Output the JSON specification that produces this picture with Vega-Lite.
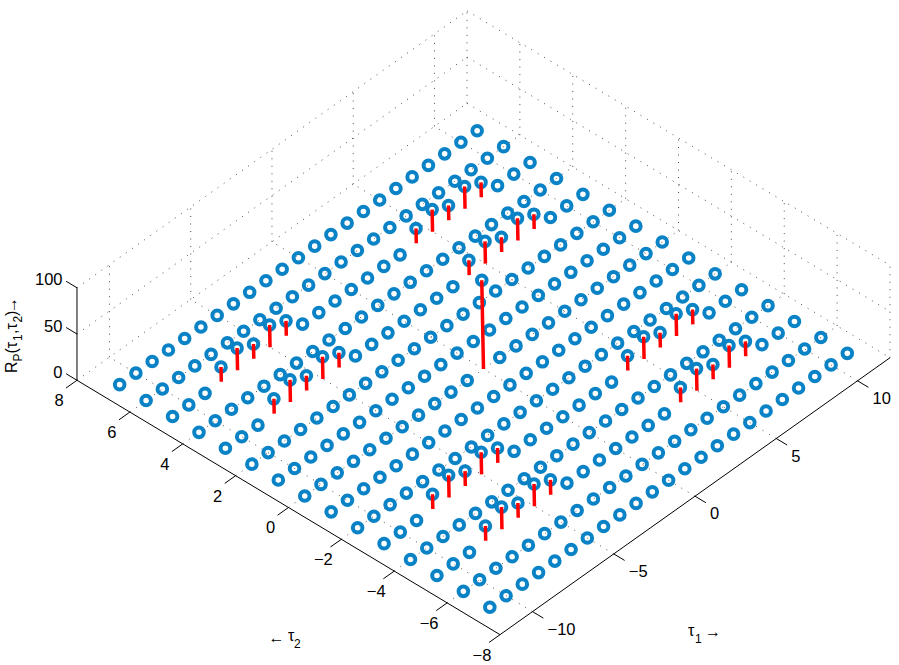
{"$schema":"https://vega.github.io/schema/vega-lite/v6.json","width":899,"height":665,"autosize":{"type":"fit","contains":"padding"},"padding":0,"background":"white","config":{"view":{"stroke":null}},
"datasets":{
"grid":[
{"tau1":-11,"tau2":-7,"R":0},{"tau1":-10,"tau2":-7,"R":0},{"tau1":-9,"tau2":-7,"R":0},{"tau1":-8,"tau2":-7,"R":0},{"tau1":-7,"tau2":-7,"R":0},{"tau1":-6,"tau2":-7,"R":0},{"tau1":-5,"tau2":-7,"R":0},{"tau1":-4,"tau2":-7,"R":0},{"tau1":-3,"tau2":-7,"R":0},{"tau1":-2,"tau2":-7,"R":0},{"tau1":-1,"tau2":-7,"R":0},{"tau1":0,"tau2":-7,"R":0},{"tau1":1,"tau2":-7,"R":0},{"tau1":2,"tau2":-7,"R":0},{"tau1":3,"tau2":-7,"R":0},{"tau1":4,"tau2":-7,"R":0},{"tau1":5,"tau2":-7,"R":0},{"tau1":6,"tau2":-7,"R":0},{"tau1":7,"tau2":-7,"R":0},{"tau1":8,"tau2":-7,"R":0},{"tau1":9,"tau2":-7,"R":0},{"tau1":10,"tau2":-7,"R":0},{"tau1":11,"tau2":-7,"R":0},
{"tau1":-11,"tau2":-6,"R":0},{"tau1":-10,"tau2":-6,"R":0},{"tau1":-9,"tau2":-6,"R":0},{"tau1":-8,"tau2":-6,"R":0},{"tau1":-7,"tau2":-6,"R":0},{"tau1":-6,"tau2":-6,"R":0},{"tau1":-5,"tau2":-6,"R":0},{"tau1":-4,"tau2":-6,"R":0},{"tau1":-3,"tau2":-6,"R":0},{"tau1":-2,"tau2":-6,"R":0},{"tau1":-1,"tau2":-6,"R":0},{"tau1":0,"tau2":-6,"R":0},{"tau1":1,"tau2":-6,"R":0},{"tau1":2,"tau2":-6,"R":0},{"tau1":3,"tau2":-6,"R":0},{"tau1":4,"tau2":-6,"R":0},{"tau1":5,"tau2":-6,"R":0},{"tau1":6,"tau2":-6,"R":0},{"tau1":7,"tau2":-6,"R":0},{"tau1":8,"tau2":-6,"R":0},{"tau1":9,"tau2":-6,"R":0},{"tau1":10,"tau2":-6,"R":0},{"tau1":11,"tau2":-6,"R":0},
{"tau1":-11,"tau2":-5,"R":0},{"tau1":-10,"tau2":-5,"R":0},{"tau1":-9,"tau2":-5,"R":0},{"tau1":-8,"tau2":-5,"R":16},{"tau1":-7,"tau2":-5,"R":24},{"tau1":-6,"tau2":-5,"R":16},{"tau1":-5,"tau2":-5,"R":24},{"tau1":-4,"tau2":-5,"R":16},{"tau1":-3,"tau2":-5,"R":0},{"tau1":-2,"tau2":-5,"R":0},{"tau1":-1,"tau2":-5,"R":0},{"tau1":0,"tau2":-5,"R":0},{"tau1":1,"tau2":-5,"R":0},{"tau1":2,"tau2":-5,"R":0},{"tau1":3,"tau2":-5,"R":0},{"tau1":4,"tau2":-5,"R":16},{"tau1":5,"tau2":-5,"R":24},{"tau1":6,"tau2":-5,"R":16},{"tau1":7,"tau2":-5,"R":24},{"tau1":8,"tau2":-5,"R":16},{"tau1":9,"tau2":-5,"R":0},{"tau1":10,"tau2":-5,"R":0},{"tau1":11,"tau2":-5,"R":0},
{"tau1":-11,"tau2":-4,"R":0},{"tau1":-10,"tau2":-4,"R":0},{"tau1":-9,"tau2":-4,"R":0},{"tau1":-8,"tau2":-4,"R":0},{"tau1":-7,"tau2":-4,"R":0},{"tau1":-6,"tau2":-4,"R":0},{"tau1":-5,"tau2":-4,"R":0},{"tau1":-4,"tau2":-4,"R":0},{"tau1":-3,"tau2":-4,"R":0},{"tau1":-2,"tau2":-4,"R":0},{"tau1":-1,"tau2":-4,"R":0},{"tau1":0,"tau2":-4,"R":0},{"tau1":1,"tau2":-4,"R":0},{"tau1":2,"tau2":-4,"R":0},{"tau1":3,"tau2":-4,"R":0},{"tau1":4,"tau2":-4,"R":0},{"tau1":5,"tau2":-4,"R":0},{"tau1":6,"tau2":-4,"R":0},{"tau1":7,"tau2":-4,"R":0},{"tau1":8,"tau2":-4,"R":0},{"tau1":9,"tau2":-4,"R":0},{"tau1":10,"tau2":-4,"R":0},{"tau1":11,"tau2":-4,"R":0},
{"tau1":-11,"tau2":-3,"R":0},{"tau1":-10,"tau2":-3,"R":0},{"tau1":-9,"tau2":-3,"R":0},{"tau1":-8,"tau2":-3,"R":16},{"tau1":-7,"tau2":-3,"R":24},{"tau1":-6,"tau2":-3,"R":16},{"tau1":-5,"tau2":-3,"R":24},{"tau1":-4,"tau2":-3,"R":16},{"tau1":-3,"tau2":-3,"R":0},{"tau1":-2,"tau2":-3,"R":0},{"tau1":-1,"tau2":-3,"R":0},{"tau1":0,"tau2":-3,"R":0},{"tau1":1,"tau2":-3,"R":0},{"tau1":2,"tau2":-3,"R":0},{"tau1":3,"tau2":-3,"R":0},{"tau1":4,"tau2":-3,"R":16},{"tau1":5,"tau2":-3,"R":24},{"tau1":6,"tau2":-3,"R":16},{"tau1":7,"tau2":-3,"R":24},{"tau1":8,"tau2":-3,"R":16},{"tau1":9,"tau2":-3,"R":0},{"tau1":10,"tau2":-3,"R":0},{"tau1":11,"tau2":-3,"R":0},
{"tau1":-11,"tau2":-2,"R":0},{"tau1":-10,"tau2":-2,"R":0},{"tau1":-9,"tau2":-2,"R":0},{"tau1":-8,"tau2":-2,"R":0},{"tau1":-7,"tau2":-2,"R":0},{"tau1":-6,"tau2":-2,"R":0},{"tau1":-5,"tau2":-2,"R":0},{"tau1":-4,"tau2":-2,"R":0},{"tau1":-3,"tau2":-2,"R":0},{"tau1":-2,"tau2":-2,"R":0},{"tau1":-1,"tau2":-2,"R":0},{"tau1":0,"tau2":-2,"R":0},{"tau1":1,"tau2":-2,"R":0},{"tau1":2,"tau2":-2,"R":0},{"tau1":3,"tau2":-2,"R":0},{"tau1":4,"tau2":-2,"R":0},{"tau1":5,"tau2":-2,"R":0},{"tau1":6,"tau2":-2,"R":0},{"tau1":7,"tau2":-2,"R":0},{"tau1":8,"tau2":-2,"R":0},{"tau1":9,"tau2":-2,"R":0},{"tau1":10,"tau2":-2,"R":0},{"tau1":11,"tau2":-2,"R":0},
{"tau1":-11,"tau2":-1,"R":0},{"tau1":-10,"tau2":-1,"R":0},{"tau1":-9,"tau2":-1,"R":0},{"tau1":-8,"tau2":-1,"R":0},{"tau1":-7,"tau2":-1,"R":0},{"tau1":-6,"tau2":-1,"R":0},{"tau1":-5,"tau2":-1,"R":0},{"tau1":-4,"tau2":-1,"R":0},{"tau1":-3,"tau2":-1,"R":0},{"tau1":-2,"tau2":-1,"R":0},{"tau1":-1,"tau2":-1,"R":0},{"tau1":0,"tau2":-1,"R":0},{"tau1":1,"tau2":-1,"R":0},{"tau1":2,"tau2":-1,"R":0},{"tau1":3,"tau2":-1,"R":0},{"tau1":4,"tau2":-1,"R":0},{"tau1":5,"tau2":-1,"R":0},{"tau1":6,"tau2":-1,"R":0},{"tau1":7,"tau2":-1,"R":0},{"tau1":8,"tau2":-1,"R":0},{"tau1":9,"tau2":-1,"R":0},{"tau1":10,"tau2":-1,"R":0},{"tau1":11,"tau2":-1,"R":0},
{"tau1":-11,"tau2":0,"R":0},{"tau1":-10,"tau2":0,"R":0},{"tau1":-9,"tau2":0,"R":0},{"tau1":-8,"tau2":0,"R":0},{"tau1":-7,"tau2":0,"R":0},{"tau1":-6,"tau2":0,"R":0},{"tau1":-5,"tau2":0,"R":0},{"tau1":-4,"tau2":0,"R":0},{"tau1":-3,"tau2":0,"R":0},{"tau1":-2,"tau2":0,"R":0},{"tau1":-1,"tau2":0,"R":0},{"tau1":0,"tau2":0,"R":96},{"tau1":1,"tau2":0,"R":0},{"tau1":2,"tau2":0,"R":0},{"tau1":3,"tau2":0,"R":0},{"tau1":4,"tau2":0,"R":0},{"tau1":5,"tau2":0,"R":0},{"tau1":6,"tau2":0,"R":0},{"tau1":7,"tau2":0,"R":0},{"tau1":8,"tau2":0,"R":0},{"tau1":9,"tau2":0,"R":0},{"tau1":10,"tau2":0,"R":0},{"tau1":11,"tau2":0,"R":0},
{"tau1":-11,"tau2":1,"R":0},{"tau1":-10,"tau2":1,"R":0},{"tau1":-9,"tau2":1,"R":0},{"tau1":-8,"tau2":1,"R":0},{"tau1":-7,"tau2":1,"R":0},{"tau1":-6,"tau2":1,"R":0},{"tau1":-5,"tau2":1,"R":0},{"tau1":-4,"tau2":1,"R":0},{"tau1":-3,"tau2":1,"R":0},{"tau1":-2,"tau2":1,"R":0},{"tau1":-1,"tau2":1,"R":0},{"tau1":0,"tau2":1,"R":0},{"tau1":1,"tau2":1,"R":0},{"tau1":2,"tau2":1,"R":0},{"tau1":3,"tau2":1,"R":0},{"tau1":4,"tau2":1,"R":0},{"tau1":5,"tau2":1,"R":0},{"tau1":6,"tau2":1,"R":0},{"tau1":7,"tau2":1,"R":0},{"tau1":8,"tau2":1,"R":0},{"tau1":9,"tau2":1,"R":0},{"tau1":10,"tau2":1,"R":0},{"tau1":11,"tau2":1,"R":0},
{"tau1":-11,"tau2":2,"R":0},{"tau1":-10,"tau2":2,"R":0},{"tau1":-9,"tau2":2,"R":0},{"tau1":-8,"tau2":2,"R":0},{"tau1":-7,"tau2":2,"R":0},{"tau1":-6,"tau2":2,"R":0},{"tau1":-5,"tau2":2,"R":0},{"tau1":-4,"tau2":2,"R":0},{"tau1":-3,"tau2":2,"R":0},{"tau1":-2,"tau2":2,"R":0},{"tau1":-1,"tau2":2,"R":0},{"tau1":0,"tau2":2,"R":0},{"tau1":1,"tau2":2,"R":0},{"tau1":2,"tau2":2,"R":0},{"tau1":3,"tau2":2,"R":0},{"tau1":4,"tau2":2,"R":0},{"tau1":5,"tau2":2,"R":0},{"tau1":6,"tau2":2,"R":0},{"tau1":7,"tau2":2,"R":0},{"tau1":8,"tau2":2,"R":0},{"tau1":9,"tau2":2,"R":0},{"tau1":10,"tau2":2,"R":0},{"tau1":11,"tau2":2,"R":0},
{"tau1":-11,"tau2":3,"R":0},{"tau1":-10,"tau2":3,"R":0},{"tau1":-9,"tau2":3,"R":0},{"tau1":-8,"tau2":3,"R":16},{"tau1":-7,"tau2":3,"R":24},{"tau1":-6,"tau2":3,"R":16},{"tau1":-5,"tau2":3,"R":24},{"tau1":-4,"tau2":3,"R":16},{"tau1":-3,"tau2":3,"R":0},{"tau1":-2,"tau2":3,"R":0},{"tau1":-1,"tau2":3,"R":0},{"tau1":0,"tau2":3,"R":0},{"tau1":1,"tau2":3,"R":0},{"tau1":2,"tau2":3,"R":0},{"tau1":3,"tau2":3,"R":0},{"tau1":4,"tau2":3,"R":16},{"tau1":5,"tau2":3,"R":24},{"tau1":6,"tau2":3,"R":16},{"tau1":7,"tau2":3,"R":24},{"tau1":8,"tau2":3,"R":16},{"tau1":9,"tau2":3,"R":0},{"tau1":10,"tau2":3,"R":0},{"tau1":11,"tau2":3,"R":0},
{"tau1":-11,"tau2":4,"R":0},{"tau1":-10,"tau2":4,"R":0},{"tau1":-9,"tau2":4,"R":0},{"tau1":-8,"tau2":4,"R":0},{"tau1":-7,"tau2":4,"R":0},{"tau1":-6,"tau2":4,"R":0},{"tau1":-5,"tau2":4,"R":0},{"tau1":-4,"tau2":4,"R":0},{"tau1":-3,"tau2":4,"R":0},{"tau1":-2,"tau2":4,"R":0},{"tau1":-1,"tau2":4,"R":0},{"tau1":0,"tau2":4,"R":0},{"tau1":1,"tau2":4,"R":0},{"tau1":2,"tau2":4,"R":0},{"tau1":3,"tau2":4,"R":0},{"tau1":4,"tau2":4,"R":0},{"tau1":5,"tau2":4,"R":0},{"tau1":6,"tau2":4,"R":0},{"tau1":7,"tau2":4,"R":0},{"tau1":8,"tau2":4,"R":0},{"tau1":9,"tau2":4,"R":0},{"tau1":10,"tau2":4,"R":0},{"tau1":11,"tau2":4,"R":0},
{"tau1":-11,"tau2":5,"R":0},{"tau1":-10,"tau2":5,"R":0},{"tau1":-9,"tau2":5,"R":0},{"tau1":-8,"tau2":5,"R":16},{"tau1":-7,"tau2":5,"R":24},{"tau1":-6,"tau2":5,"R":16},{"tau1":-5,"tau2":5,"R":24},{"tau1":-4,"tau2":5,"R":16},{"tau1":-3,"tau2":5,"R":0},{"tau1":-2,"tau2":5,"R":0},{"tau1":-1,"tau2":5,"R":0},{"tau1":0,"tau2":5,"R":0},{"tau1":1,"tau2":5,"R":0},{"tau1":2,"tau2":5,"R":0},{"tau1":3,"tau2":5,"R":0},{"tau1":4,"tau2":5,"R":16},{"tau1":5,"tau2":5,"R":24},{"tau1":6,"tau2":5,"R":16},{"tau1":7,"tau2":5,"R":24},{"tau1":8,"tau2":5,"R":16},{"tau1":9,"tau2":5,"R":0},{"tau1":10,"tau2":5,"R":0},{"tau1":11,"tau2":5,"R":0},
{"tau1":-11,"tau2":6,"R":0},{"tau1":-10,"tau2":6,"R":0},{"tau1":-9,"tau2":6,"R":0},{"tau1":-8,"tau2":6,"R":0},{"tau1":-7,"tau2":6,"R":0},{"tau1":-6,"tau2":6,"R":0},{"tau1":-5,"tau2":6,"R":0},{"tau1":-4,"tau2":6,"R":0},{"tau1":-3,"tau2":6,"R":0},{"tau1":-2,"tau2":6,"R":0},{"tau1":-1,"tau2":6,"R":0},{"tau1":0,"tau2":6,"R":0},{"tau1":1,"tau2":6,"R":0},{"tau1":2,"tau2":6,"R":0},{"tau1":3,"tau2":6,"R":0},{"tau1":4,"tau2":6,"R":0},{"tau1":5,"tau2":6,"R":0},{"tau1":6,"tau2":6,"R":0},{"tau1":7,"tau2":6,"R":0},{"tau1":8,"tau2":6,"R":0},{"tau1":9,"tau2":6,"R":0},{"tau1":10,"tau2":6,"R":0},{"tau1":11,"tau2":6,"R":0},
{"tau1":-11,"tau2":7,"R":0},{"tau1":-10,"tau2":7,"R":0},{"tau1":-9,"tau2":7,"R":0},{"tau1":-8,"tau2":7,"R":0},{"tau1":-7,"tau2":7,"R":0},{"tau1":-6,"tau2":7,"R":0},{"tau1":-5,"tau2":7,"R":0},{"tau1":-4,"tau2":7,"R":0},{"tau1":-3,"tau2":7,"R":0},{"tau1":-2,"tau2":7,"R":0},{"tau1":-1,"tau2":7,"R":0},{"tau1":0,"tau2":7,"R":0},{"tau1":1,"tau2":7,"R":0},{"tau1":2,"tau2":7,"R":0},{"tau1":3,"tau2":7,"R":0},{"tau1":4,"tau2":7,"R":0},{"tau1":5,"tau2":7,"R":0},{"tau1":6,"tau2":7,"R":0},{"tau1":7,"tau2":7,"R":0},{"tau1":8,"tau2":7,"R":0},{"tau1":9,"tau2":7,"R":0},{"tau1":10,"tau2":7,"R":0},{"tau1":11,"tau2":7,"R":0}
],
"frame":[
{"kind":"grid","a1":-10,"a2":-8,"az":0,"b1":-10,"b2":8,"bz":0},{"kind":"grid","a1":-5,"a2":-8,"az":0,"b1":-5,"b2":8,"bz":0},{"kind":"grid","a1":0,"a2":-8,"az":0,"b1":0,"b2":8,"bz":0},{"kind":"grid","a1":5,"a2":-8,"az":0,"b1":5,"b2":8,"bz":0},{"kind":"grid","a1":10,"a2":-8,"az":0,"b1":10,"b2":8,"bz":0},
{"kind":"grid","a1":-10,"a2":8,"az":0,"b1":-10,"b2":8,"bz":100},{"kind":"grid","a1":-5,"a2":8,"az":0,"b1":-5,"b2":8,"bz":100},{"kind":"grid","a1":0,"a2":8,"az":0,"b1":0,"b2":8,"bz":100},{"kind":"grid","a1":5,"a2":8,"az":0,"b1":5,"b2":8,"bz":100},{"kind":"grid","a1":10,"a2":8,"az":0,"b1":10,"b2":8,"bz":100},
{"kind":"grid","a1":-12,"a2":-6,"az":0,"b1":12,"b2":-6,"bz":0},{"kind":"grid","a1":-12,"a2":-4,"az":0,"b1":12,"b2":-4,"bz":0},{"kind":"grid","a1":-12,"a2":-2,"az":0,"b1":12,"b2":-2,"bz":0},{"kind":"grid","a1":-12,"a2":0,"az":0,"b1":12,"b2":0,"bz":0},{"kind":"grid","a1":-12,"a2":2,"az":0,"b1":12,"b2":2,"bz":0},{"kind":"grid","a1":-12,"a2":4,"az":0,"b1":12,"b2":4,"bz":0},{"kind":"grid","a1":-12,"a2":6,"az":0,"b1":12,"b2":6,"bz":0},
{"kind":"grid","a1":12,"a2":-6,"az":0,"b1":12,"b2":-6,"bz":100},{"kind":"grid","a1":12,"a2":-4,"az":0,"b1":12,"b2":-4,"bz":100},{"kind":"grid","a1":12,"a2":-2,"az":0,"b1":12,"b2":-2,"bz":100},{"kind":"grid","a1":12,"a2":0,"az":0,"b1":12,"b2":0,"bz":100},{"kind":"grid","a1":12,"a2":2,"az":0,"b1":12,"b2":2,"bz":100},{"kind":"grid","a1":12,"a2":4,"az":0,"b1":12,"b2":4,"bz":100},{"kind":"grid","a1":12,"a2":6,"az":0,"b1":12,"b2":6,"bz":100},
{"kind":"grid","a1":-12,"a2":8,"az":0,"b1":12,"b2":8,"bz":0},{"kind":"grid","a1":-12,"a2":8,"az":50,"b1":12,"b2":8,"bz":50},{"kind":"grid","a1":-12,"a2":8,"az":100,"b1":12,"b2":8,"bz":100},
{"kind":"grid","a1":12,"a2":8,"az":0,"b1":12,"b2":-8,"bz":0},{"kind":"grid","a1":12,"a2":8,"az":50,"b1":12,"b2":-8,"bz":50},{"kind":"grid","a1":12,"a2":8,"az":100,"b1":12,"b2":-8,"bz":100},
{"kind":"grid","a1":12,"a2":8,"az":0,"b1":12,"b2":8,"bz":100},{"kind":"grid","a1":12,"a2":-8,"az":0,"b1":12,"b2":-8,"bz":100},
{"kind":"axis","a1":-12,"a2":8,"az":0,"b1":-12,"b2":-8,"bz":0},{"kind":"axis","a1":-12,"a2":-8,"az":0,"b1":12,"b2":-8,"bz":0},{"kind":"axis","a1":-12,"a2":8,"az":0,"b1":-12,"b2":8,"bz":100},
{"kind":"axis","a1":-12,"a2":8,"az":0,"b1":-12.67,"b2":8,"bz":0},{"kind":"axis","a1":-12,"a2":6,"az":0,"b1":-12.67,"b2":6,"bz":0},{"kind":"axis","a1":-12,"a2":4,"az":0,"b1":-12.67,"b2":4,"bz":0},{"kind":"axis","a1":-12,"a2":2,"az":0,"b1":-12.67,"b2":2,"bz":0},{"kind":"axis","a1":-12,"a2":0,"az":0,"b1":-12.67,"b2":0,"bz":0},{"kind":"axis","a1":-12,"a2":-2,"az":0,"b1":-12.67,"b2":-2,"bz":0},{"kind":"axis","a1":-12,"a2":-4,"az":0,"b1":-12.67,"b2":-4,"bz":0},{"kind":"axis","a1":-12,"a2":-6,"az":0,"b1":-12.67,"b2":-6,"bz":0},{"kind":"axis","a1":-12,"a2":-8,"az":0,"b1":-12.67,"b2":-8,"bz":0},
{"kind":"axis","a1":-10,"a2":-8,"az":0,"b1":-10,"b2":-8.41,"bz":0},{"kind":"axis","a1":-5,"a2":-8,"az":0,"b1":-5,"b2":-8.41,"bz":0},{"kind":"axis","a1":0,"a2":-8,"az":0,"b1":0,"b2":-8.41,"bz":0},{"kind":"axis","a1":5,"a2":-8,"az":0,"b1":5,"b2":-8.41,"bz":0},{"kind":"axis","a1":10,"a2":-8,"az":0,"b1":10,"b2":-8.41,"bz":0},
{"kind":"axis","a1":-12,"a2":8,"az":0,"b1":-12,"b2":8.41,"bz":0},{"kind":"axis","a1":-12,"a2":8,"az":50,"b1":-12,"b2":8.41,"bz":50},{"kind":"axis","a1":-12,"a2":8,"az":100,"b1":-12,"b2":8.41,"bz":100}
],
"ticks":[
{"axis":"t2","tau1":-12,"tau2":8,"z":0,"label":"8"},{"axis":"t2","tau1":-12,"tau2":6,"z":0,"label":"6"},{"axis":"t2","tau1":-12,"tau2":4,"z":0,"label":"4"},{"axis":"t2","tau1":-12,"tau2":2,"z":0,"label":"2"},{"axis":"t2","tau1":-12,"tau2":0,"z":0,"label":"0"},{"axis":"t2","tau1":-12,"tau2":-2,"z":0,"label":"−2"},{"axis":"t2","tau1":-12,"tau2":-4,"z":0,"label":"−4"},{"axis":"t2","tau1":-12,"tau2":-6,"z":0,"label":"−6"},{"axis":"t2","tau1":-12,"tau2":-8,"z":0,"label":"−8"},
{"axis":"t1","tau1":-10,"tau2":-8,"z":0,"label":"−10"},{"axis":"t1","tau1":-5,"tau2":-8,"z":0,"label":"−5"},{"axis":"t1","tau1":0,"tau2":-8,"z":0,"label":"0"},{"axis":"t1","tau1":5,"tau2":-8,"z":0,"label":"5"},{"axis":"t1","tau1":10,"tau2":-8,"z":0,"label":"10"},
{"axis":"z","tau1":-12,"tau2":8,"z":0,"label":"0"},{"axis":"z","tau1":-12,"tau2":8,"z":50,"label":"50"},{"axis":"z","tau1":-12,"tau2":8,"z":100,"label":"100"}
],
"titles":[
{"orient":"h","part":"main","tau1":-6.758,"tau2":-11.888,"label":"τ"},
{"orient":"h","part":"sub","tau1":-6.888,"tau2":-12.233,"label":"1"},
{"orient":"h","part":"main","tau1":-6.348,"tau2":-12.279,"label":"→"},
{"orient":"h","part":"main","tau1":-18.9,"tau2":-3.484,"label":"←"},
{"orient":"h","part":"main","tau1":-18.278,"tau2":-3.84,"label":"τ"},
{"orient":"h","part":"sub","tau1":-18.438,"tau2":-4.165,"label":"2"},
{"orient":"v","part":"main","tau1":-13.351,"tau2":9.438,"label":"R"},
{"orient":"v","part":"sub","tau1":-12.67,"tau2":9.667,"label":"P"},
{"orient":"v","part":"main","tau1":-12.436,"tau2":10.0,"label":"(τ"},
{"orient":"v","part":"sub","tau1":-11.708,"tau2":10.258,"label":"1"},
{"orient":"v","part":"main","tau1":-11.521,"tau2":10.562,"label":",τ"},
{"orient":"v","part":"sub","tau1":-10.845,"tau2":10.789,"label":"2"},
{"orient":"v","part":"main","tau1":-10.676,"tau2":11.081,"label":")"},
{"orient":"v","part":"main","tau1":-10.535,"tau2":11.168,"label":"→"}
]
},
"layer":[
{"data":{"name":"frame"},"transform":[{"filter":"datum.kind==='grid'"},{"calculate":"483.5+16.25*datum.a1-26.44*datum.a2","as":"x1"},{"calculate":"369-11.54*datum.a1-15.9*datum.a2-0.925*datum.az","as":"y1"},{"calculate":"483.5+16.25*datum.b1-26.44*datum.b2","as":"x2"},{"calculate":"369-11.54*datum.b1-15.9*datum.b2-0.925*datum.bz","as":"y2"}],
"mark":{"type":"rule","stroke":"#000000","strokeWidth":0.7,"strokeDash":[1,6.5]},
"encoding":{"x":{"field":"x1","type":"quantitative","scale":{"domain":[0,899],"nice":false,"zero":false},"axis":null},"y":{"field":"y1","type":"quantitative","scale":{"domain":[665,0],"nice":false,"zero":false},"axis":null},"x2":{"field":"x2"},"y2":{"field":"y2"}}},
{"data":{"name":"frame"},"transform":[{"filter":"datum.kind==='axis'"},{"calculate":"483.5+16.25*datum.a1-26.44*datum.a2","as":"x1"},{"calculate":"369-11.54*datum.a1-15.9*datum.a2-0.925*datum.az","as":"y1"},{"calculate":"483.5+16.25*datum.b1-26.44*datum.b2","as":"x2"},{"calculate":"369-11.54*datum.b1-15.9*datum.b2-0.925*datum.bz","as":"y2"}],
"mark":{"type":"rule","stroke":"#000000","strokeWidth":1},
"encoding":{"x":{"field":"x1","type":"quantitative","scale":{"domain":[0,899],"nice":false,"zero":false},"axis":null},"y":{"field":"y1","type":"quantitative","scale":{"domain":[665,0],"nice":false,"zero":false},"axis":null},"x2":{"field":"x2"},"y2":{"field":"y2"}}},
{"data":{"name":"grid"},"transform":[{"calculate":"483.5+16.25*datum.tau1-26.44*datum.tau2-0.018*datum.R","as":"px"},{"calculate":"369-11.54*datum.tau1-15.9*datum.tau2-0.925*datum.R","as":"py"}],
"mark":{"type":"point","shape":"circle","filled":false,"size":92,"stroke":"#0a82c6","strokeWidth":4,"opacity":1},
"encoding":{"x":{"field":"px","type":"quantitative","scale":{"domain":[0,899],"nice":false,"zero":false},"axis":null},"y":{"field":"py","type":"quantitative","scale":{"domain":[665,0],"nice":false,"zero":false},"axis":null}}},
{"data":{"name":"grid"},"transform":[{"filter":"datum.R>0"},{"calculate":"483.5+16.25*datum.tau1-26.44*datum.tau2-0.018*datum.R","as":"px"},{"calculate":"483.5+16.25*datum.tau1-26.44*datum.tau2","as":"px0"},{"calculate":"369-11.54*datum.tau1-15.9*datum.tau2-0.925*datum.R","as":"py"},{"calculate":"369-11.54*datum.tau1-15.9*datum.tau2","as":"py0"}],
"mark":{"type":"rule","stroke":"#ff0000","strokeWidth":3.5},
"encoding":{"x":{"field":"px","type":"quantitative","scale":{"domain":[0,899],"nice":false,"zero":false},"axis":null},"y":{"field":"py","type":"quantitative","scale":{"domain":[665,0],"nice":false,"zero":false},"axis":null},"x2":{"field":"px0"},"y2":{"field":"py0"}}},
{"data":{"name":"ticks"},"transform":[{"filter":"datum.axis==='t2'"},{"calculate":"483.5+16.25*datum.tau1-26.44*datum.tau2","as":"px"},{"calculate":"369-11.54*datum.tau1-15.9*datum.tau2-0.925*datum.z","as":"py"}],
"mark":{"type":"text","font":"Liberation Sans","fontSize":16.5,"align":"center","baseline":"middle","dx":-18,"dy":21,"fill":"#000000"},
"encoding":{"x":{"field":"px","type":"quantitative","scale":{"domain":[0,899],"nice":false,"zero":false},"axis":null},"y":{"field":"py","type":"quantitative","scale":{"domain":[665,0],"nice":false,"zero":false},"axis":null},"text":{"field":"label"}}},
{"data":{"name":"ticks"},"transform":[{"filter":"datum.axis==='t1'"},{"calculate":"483.5+16.25*datum.tau1-26.44*datum.tau2","as":"px"},{"calculate":"369-11.54*datum.tau1-15.9*datum.tau2-0.925*datum.z","as":"py"}],
"mark":{"type":"text","font":"Liberation Sans","fontSize":16.5,"align":"left","baseline":"middle","dx":15,"dy":18,"fill":"#000000"},
"encoding":{"x":{"field":"px","type":"quantitative","scale":{"domain":[0,899],"nice":false,"zero":false},"axis":null},"y":{"field":"py","type":"quantitative","scale":{"domain":[665,0],"nice":false,"zero":false},"axis":null},"text":{"field":"label"}}},
{"data":{"name":"ticks"},"transform":[{"filter":"datum.axis==='z'"},{"calculate":"483.5+16.25*datum.tau1-26.44*datum.tau2","as":"px"},{"calculate":"369-11.54*datum.tau1-15.9*datum.tau2-0.925*datum.z","as":"py"}],
"mark":{"type":"text","font":"Liberation Sans","fontSize":16.5,"align":"right","baseline":"middle","dx":-14.5,"dy":-7.5,"fill":"#000000"},
"encoding":{"x":{"field":"px","type":"quantitative","scale":{"domain":[0,899],"nice":false,"zero":false},"axis":null},"y":{"field":"py","type":"quantitative","scale":{"domain":[665,0],"nice":false,"zero":false},"axis":null},"text":{"field":"label"}}},
{"data":{"name":"titles"},"transform":[{"filter":"datum.orient==='h'&&datum.part==='main'"},{"calculate":"483.5+16.25*datum.tau1-26.44*datum.tau2","as":"px"},{"calculate":"369-11.54*datum.tau1-15.9*datum.tau2","as":"py"}],
"mark":{"type":"text","font":"Liberation Sans","fontSize":16,"align":"left","baseline":"alphabetic","fill":"#000000"},
"encoding":{"x":{"field":"px","type":"quantitative","scale":{"domain":[0,899],"nice":false,"zero":false},"axis":null},"y":{"field":"py","type":"quantitative","scale":{"domain":[665,0],"nice":false,"zero":false},"axis":null},"text":{"field":"label"}}},
{"data":{"name":"titles"},"transform":[{"filter":"datum.orient==='h'&&datum.part==='sub'"},{"calculate":"483.5+16.25*datum.tau1-26.44*datum.tau2","as":"px"},{"calculate":"369-11.54*datum.tau1-15.9*datum.tau2","as":"py"}],
"mark":{"type":"text","font":"Liberation Sans","fontSize":12,"align":"left","baseline":"alphabetic","fill":"#000000"},
"encoding":{"x":{"field":"px","type":"quantitative","scale":{"domain":[0,899],"nice":false,"zero":false},"axis":null},"y":{"field":"py","type":"quantitative","scale":{"domain":[665,0],"nice":false,"zero":false},"axis":null},"text":{"field":"label"}}},
{"data":{"name":"titles"},"transform":[{"filter":"datum.orient==='v'&&datum.part==='main'"},{"calculate":"483.5+16.25*datum.tau1-26.44*datum.tau2","as":"px"},{"calculate":"369-11.54*datum.tau1-15.9*datum.tau2","as":"py"}],
"mark":{"type":"text","font":"Liberation Sans","fontSize":16,"angle":270,"align":"left","baseline":"alphabetic","fill":"#000000"},
"encoding":{"x":{"field":"px","type":"quantitative","scale":{"domain":[0,899],"nice":false,"zero":false},"axis":null},"y":{"field":"py","type":"quantitative","scale":{"domain":[665,0],"nice":false,"zero":false},"axis":null},"text":{"field":"label"}}},
{"data":{"name":"titles"},"transform":[{"filter":"datum.orient==='v'&&datum.part==='sub'"},{"calculate":"483.5+16.25*datum.tau1-26.44*datum.tau2","as":"px"},{"calculate":"369-11.54*datum.tau1-15.9*datum.tau2","as":"py"}],
"mark":{"type":"text","font":"Liberation Sans","fontSize":12,"angle":270,"align":"left","baseline":"alphabetic","fill":"#000000"},
"encoding":{"x":{"field":"px","type":"quantitative","scale":{"domain":[0,899],"nice":false,"zero":false},"axis":null},"y":{"field":"py","type":"quantitative","scale":{"domain":[665,0],"nice":false,"zero":false},"axis":null},"text":{"field":"label"}}}
]}
